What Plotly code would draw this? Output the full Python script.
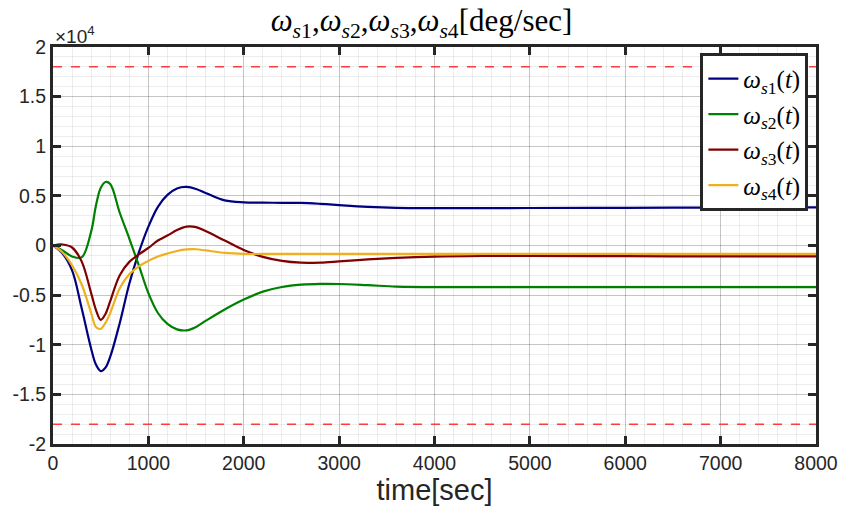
import plotly.graph_objects as go

# ---- data (time in sec, angular speed in deg/sec) ----
t = [0, 100, 200, 300, 400, 450, 500, 550, 600, 700, 800, 900, 1000, 1100, 1200,
     1300, 1400, 1500, 1600, 1800, 2000, 2200, 2400, 2600, 2800, 3000, 3300, 3600,
     4000, 4500, 5000, 6000, 7000, 8000]

ws1 = [0, -800, -2500, -6300, -10400, -12000, -12650, -12300, -11200, -7800, -3850,
       -700, 1900, 3900, 5100, 5750, 5900, 5700, 5300, 4550, 4350, 4320, 4300, 4290,
       4200, 4070, 3900, 3800, 3770, 3770, 3780, 3800, 3820, 3840]

ws2 = [0, -500, -1100, -1200, 1400, 4000, 5800, 6400, 6200, 3300, 700, -2000, -4800,
       -6800, -7900, -8450, -8550, -8200, -7600, -6450, -5450, -4650, -4180, -3950,
       -3870, -3880, -4000, -4140, -4200, -4200, -4200, -4200, -4200, -4200]

ws3 = [0, 100, -200, -1600, -4800, -6480, -7490, -6900, -5600, -3000, -1650, -900,
       -250, 500, 1000, 1550, 1900, 1850, 1450, 500, -450, -1150, -1550, -1730,
       -1720, -1600, -1400, -1250, -1120, -1060, -1050, -1080, -1100, -1100]

ws4 = [0, -700, -2000, -3900, -6800, -8200, -8400, -7800, -6800, -4300, -2900, -2100,
       -1550, -1100, -800, -550, -400, -380, -500, -750, -850, -850, -850, -850,
       -850, -850, -850, -850, -850, -850, -850, -850, -850, -850]

limit = 18000
series_names = ["s1", "s2", "s3", "s4"]
series_vals = [ws1, ws2, ws3, ws4]
colors = ["#000080", "#008000", "#800000", "#EDB120"]

ytick_vals = [-20000, -15000, -10000, -5000, 0, 5000, 10000, 15000, 20000]
ytick_text = ["-2", "-1.5", "-1", "-0.5", "0", "0.5", "1", "1.5", "2"]
xtick_vals = [0, 1000, 2000, 3000, 4000, 5000, 6000, 7000, 8000]

fig = go.Figure()

for lim in (limit, -limit):
    fig.add_trace(go.Scatter(x=[0, 8000], y=[lim, lim], mode="lines",
                             line=dict(color="#ff3b3b", width=1.5, dash="dash"),
                             showlegend=False, hoverinfo="skip"))

for name, vals, col in zip(series_names, series_vals, colors):
    fig.add_trace(go.Scatter(
        x=t, y=vals, mode="lines",
        line=dict(color=col, width=2.2, shape="spline", smoothing=1.0),
        name="<i>ω</i><sub><i>s</i>" + name[1] + "</sub>(<i>t</i>)"))

axis_col = "#262626"
common = dict(showline=True, linecolor=axis_col, linewidth=3, mirror="allticks",
              ticks="inside", ticklen=8, tickwidth=3, tickcolor=axis_col,
              showgrid=True, gridcolor="rgba(0,0,0,0.17)", gridwidth=1,
              zeroline=False, automargin=False,
              tickfont=dict(family="Liberation Sans, Arial", size=19.5, color=axis_col))

fig.update_xaxes(range=[0, 8000], tickvals=xtick_vals,
                 minor=dict(dtick=200, showgrid=True, gridcolor="rgba(0,0,0,0.07)"),
                 title=dict(text="time[sec]", standoff=7,
                            font=dict(family="Liberation Sans, Arial", size=29, color=axis_col)),
                 **common)
fig.update_yaxes(range=[-20000, 20000], tickvals=ytick_vals, ticktext=ytick_text,
                 minor=dict(dtick=1000, showgrid=True, gridcolor="rgba(0,0,0,0.07)"),
                 **common)

fig.add_annotation(text="×10<sup>4</sup>", xref="paper", yref="paper", x=0.0, y=1.0,
                   xanchor="left", yanchor="bottom", showarrow=False, yshift=-2,
                   font=dict(family="Liberation Sans, Arial", size=19, color=axis_col))

fig.update_layout(
    width=843, height=516,
    margin=dict(l=53, r=27, t=47, b=72),
    plot_bgcolor="white", paper_bgcolor="white",
    title=dict(text="<i>ω</i><sub><i>s</i>1</sub>,<i>ω</i><sub><i>s</i>2</sub>,"
                    "<i>ω</i><sub><i>s</i>3</sub>,<i>ω</i><sub><i>s</i>4</sub>[deg/sec]",
               x=0.5, xanchor="center", y=0.96, yanchor="middle", yref="container",
               font=dict(family="Liberation Serif, DejaVu Serif", size=31, color="black")),
    legend=dict(x=0.99, y=0.985, xanchor="right", yanchor="top",
                bgcolor="white", bordercolor="#262626", borderwidth=3,
                font=dict(family="Liberation Serif, DejaVu Serif", size=25, color="black"),
                itemwidth=30, tracegroupgap=0),
    showlegend=True,
)

fig.write_html("out.html")
